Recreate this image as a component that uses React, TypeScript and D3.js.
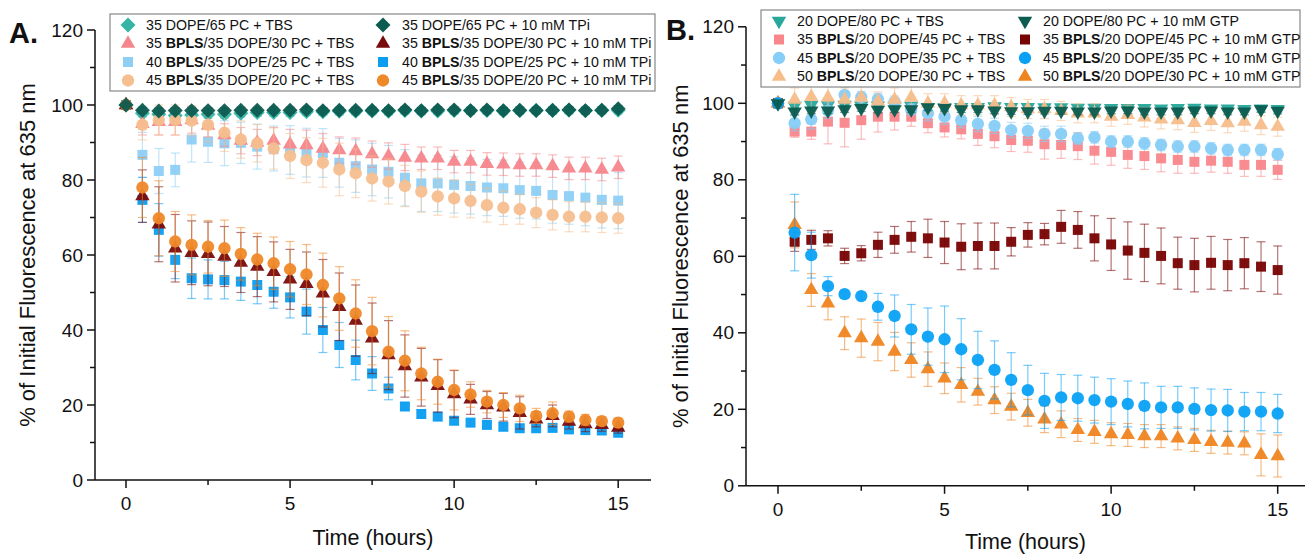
import React from "react";
import * as d3 from "d3";

const times = [0, 0.5, 1, 1.5, 2, 2.5, 3, 3.5, 4, 4.5, 5, 5.5, 6, 6.5, 7, 7.5, 8, 8.5, 9, 9.5, 10, 10.5, 11, 11.5, 12, 12.5, 13, 13.5, 14, 14.5, 15];
const yTicks = [0, 20, 40, 60, 80, 100, 120];
const yMinor = [10, 30, 50, 70, 90, 110];
const xTicks = [0, 5, 10, 15];
const xMinor = [2.5, 7.5, 12.5];

// Panel A values
const a1 = [100, 97.8, 97.5, 97.2, 97.3, 97.5, 97.5, 97.8, 98, 98, 98, 98.2, 98.2, 98.3, 98.3, 98.4, 98.3, 98.5, 98.4, 98.4, 98.5, 98.5, 98.5, 98.4, 98.5, 98.6, 98.5, 98.6, 98.5, 98.6, 98.6];
const a1e = [0.5, 1, 1, 1, 1, 1, 1, 1, 1, 1, 1, 1, 1, 1, 1, 1, 1, 1, 1, 1, 1, 1, 1, 1, 1, 1, 1, 1, 1, 1, 1];
const a2 = [100, 98.6, 98.4, 98.5, 98.5, 98.5, 98.5, 98.6, 98.6, 98.6, 98.6, 98.7, 98.5, 98.6, 98.6, 98.6, 98.5, 98.7, 98.5, 98.7, 98.7, 98.5, 98.7, 98.5, 98.6, 98.5, 98.6, 98.7, 98.5, 98.6, 99.0];
const a2e = [0.5, 0.8, 0.8, 0.8, 0.8, 0.8, 0.8, 0.8, 0.8, 0.8, 0.8, 0.8, 0.8, 0.8, 0.8, 0.8, 0.8, 0.8, 0.8, 0.8, 0.8, 0.8, 0.8, 0.8, 0.8, 0.8, 0.8, 0.8, 0.8, 0.8, 0.8];
const a3 = [100, 95, 95.5, 95.5, 96, 94.5, 92, 90.5, 90, 90.5, 89.5, 89.3, 88.4, 88.0, 87.7, 86.9, 86.4, 86.0, 85.8, 85.8, 84.9, 84.9, 84.3, 84.2, 84.0, 84.0, 83.7, 83.1, 83.1, 82.8, 83.4];
const a3e = [0.5, 3, 3.5, 3.5, 3.5, 3, 3, 3.5, 3.5, 3.5, 4, 4, 4, 3.5, 3.5, 3.5, 3.5, 3.5, 3, 3, 3, 3, 3, 3, 3, 3, 3, 3, 3, 3, 3];
const a4 = [100, 86.7, 82.4, 82.7, 90.8, 90.2, 89.8, 89.9, 88.9, 88.4, 88, 87.3, 87.2, 84.6, 83.7, 82.8, 82.2, 80.6, 79.1, 79.1, 78.7, 78.4, 78.0, 77.8, 77.3, 77.1, 76.0, 75.7, 75.3, 74.7, 74.5];
const a4e = [0.5, 6, 6, 4.5, 6, 5.5, 6, 5.5, 6, 6, 6.5, 6.5, 6.5, 6.5, 7, 7, 7, 7.5, 7.5, 7.5, 7.5, 7.5, 7.5, 7.5, 7.5, 7.5, 7.5, 7.5, 7.5, 7.5, 7.5];
const a5 = [100, 94.7, 96, 96, 95.8, 94.7, 92.6, 90.8, 89.8, 88.4, 86.4, 85.3, 84.6, 82.8, 81.8, 80.4, 79.6, 78.4, 76.9, 75.6, 75.1, 74.4, 73.3, 72.6, 72.2, 71.3, 70.7, 70.2, 70.2, 70.0, 69.8];
const a5e = [0.5, 4, 4, 4, 4, 4.5, 5, 5, 5, 5.5, 6, 6, 6.5, 7, 6.5, 6, 6, 5.5, 5.5, 5, 5, 4.5, 4.5, 4.5, 4, 4, 4, 4, 4, 4, 4];
const a6 = [100, 75.7, 68.2, 61.8, 60.6, 60.3, 59.6, 58.0, 56.9, 55.5, 53.5, 52.3, 49.8, 46.2, 42.5, 37.8, 33.3, 30.4, 27.4, 25.1, 22.9, 21.5, 20.0, 19.4, 17.9, 16.2, 17.1, 15.6, 14.9, 14.7, 14.0];
const a6e = [0.5, 7, 10, 9, 8.5, 8.5, 8, 8, 8, 8, 8, 8.5, 9, 9, 9.5, 9.4, 9.2, 8.3, 7.7, 7, 6.3, 4, 3.6, 3.7, 4.3, 2, 2.9, 2, 2, 1.7, 1.5];
const a7 = [100, 74.7, 66.7, 58.7, 53.8, 53.5, 53.3, 52.9, 52.0, 50.2, 48.7, 44.9, 40.0, 36.0, 32.0, 28.4, 24.4, 19.6, 17.6, 16.9, 15.8, 15.3, 14.7, 14.2, 13.8, 13.8, 13.9, 13.5, 13.3, 13.2, 12.6];
const a7e = [0.5, 6, 7, 5, 5.4, 5.2, 5, 5, 5, 4.4, 5.5, 6, 6, 6, 5.3, 4.5, 3, 1, 1, 1, 1, 1, 1, 1, 1, 1, 1, 1, 1, 1, 1];
const a8 = [100, 78, 69.8, 63.6, 62.7, 62.2, 61.8, 60.3, 58.8, 57.8, 56.2, 54.8, 52.0, 48.4, 44.4, 39.7, 34.2, 31.8, 28.4, 26.2, 24.0, 22.8, 20.9, 20.0, 19.1, 17.1, 17.8, 16.9, 16.0, 15.7, 15.3];
const a8e = [0.5, 8, 10, 8, 8, 7, 7.5, 7, 7, 7, 7.4, 8, 8.5, 8.5, 9, 9, 9.4, 8, 7, 6, 5.3, 3.4, 3, 3.3, 3.5, 2, 3, 1.5, 1.5, 1.2, 1.2];

// Panel B values
const b1 = [100, 99.3, 99.5, 99.5, 99.6, 99.4, 99.4, 99.3, 99.3, 99.0, 99.0, 99.0, 99.0, 99.2, 99.0, 99.0, 98.9, 98.9, 98.8, 98.8, 98.7, 98.7, 98.7, 98.6, 98.7, 98.8, 98.6, 98.6, 98.5, 98.6, 98.5];
const b1e = [0.5, 0.8, 0.8, 0.8, 0.8, 0.8, 0.8, 0.8, 0.8, 0.8, 0.8, 0.8, 0.8, 0.8, 0.8, 0.8, 0.8, 0.8, 0.8, 0.8, 0.8, 0.8, 0.8, 0.8, 0.8, 0.8, 0.8, 0.8, 0.8, 0.8, 0.8];
const b2 = [100, 97.8, 98.1, 98.1, 98.4, 98.7, 98.3, 98.4, 98.4, 98.9, 98.7, 98.4, 98.4, 98.1, 97.9, 97.9, 98, 98, 97.8, 97.8, 98.1, 98.1, 97.8, 97.8, 97.8, 98.1, 98.1, 97.8, 97.8, 98.4, 98.0];
const b2e = [0.5, 0.8, 0.8, 0.8, 0.8, 0.8, 0.8, 0.8, 0.8, 0.8, 0.8, 0.8, 0.8, 0.8, 0.8, 0.8, 0.8, 0.8, 0.8, 0.8, 0.8, 0.8, 0.8, 0.8, 0.8, 0.8, 0.8, 0.8, 0.8, 0.8, 0.8];
const b3 = [100, 92.6, 92.6, 95.2, 94.9, 95.6, 96.5, 96.5, 96.5, 94.8, 93.7, 93.2, 92.0, 91.4, 90.4, 90.2, 89.3, 89.1, 88.8, 87.6, 87.3, 86.5, 86.2, 85.6, 85.2, 84.7, 85.0, 84.7, 83.9, 83.9, 82.6];
const b3e = [0.5, 1.5, 2, 5.8, 6.3, 5, 4, 3.5, 2.5, 2.5, 2.5, 2.5, 3, 3, 3, 3, 3.9, 3.5, 3.5, 3.5, 3.5, 3.5, 3.5, 3.5, 3.5, 3, 3, 3, 3, 3, 2.5];
const b4 = [100, 94.8, 95.8, 98.1, 102.2, 101.6, 101.1, 100.4, 98.4, 97.4, 96.5, 95.6, 94.6, 94.1, 93.0, 92.8, 92.0, 92.0, 90.8, 91.1, 90.0, 90.0, 89.5, 89.1, 88.7, 88.7, 88.2, 87.8, 87.8, 87.8, 86.7];
const b4e = [0.5, 2, 2.5, 2, 2, 1.5, 1.5, 1.5, 1.5, 2, 2, 2, 2, 2, 2, 2, 2, 2, 1.5, 1.5, 1.5, 1.5, 1.5, 1.5, 1.5, 1.5, 1.5, 1.5, 1.5, 1.5, 1.5];
const b5 = [100, 101, 101.7, 101.5, 101, 101.5, 100.5, 101, 101.5, 100, 100, 99.5, 99.5, 99.5, 99, 98.5, 98.5, 98, 97.4, 97.4, 96.5, 97, 96.3, 95.8, 95.6, 94.9, 95.4, 94.8, 95.2, 94.3, 93.9];
const b5e = [0.5, 3, 4, 3.5, 3, 3, 2.5, 3, 3, 2.5, 2.5, 2.5, 2.5, 2.5, 2.5, 2.5, 2.5, 2.5, 2.5, 2.5, 2.5, 2.5, 2.5, 2.5, 2.5, 2.5, 2.5, 2.5, 2.5, 2.5, 2.5];
const b6 = [100, 63.8, 64.3, 64.7, 60.1, 60.8, 63.0, 64.3, 65.1, 64.7, 63.6, 62.5, 62.7, 62.7, 63.8, 65.6, 65.8, 67.7, 66.9, 64.7, 63.1, 61.5, 60.9, 60.1, 58.2, 57.7, 58.3, 57.7, 58.2, 57.3, 56.4];
const b6e = [0.5, 2.5, 2.5, 2, 2, 2, 3.3, 3.5, 4, 5, 5.5, 6, 6, 6, 3.7, 3.2, 2.8, 4.3, 4.8, 5.9, 6.8, 7.5, 7.5, 7.3, 6.8, 7, 6.9, 6.7, 6.7, 6.5, 6.3];
const b7 = [100, 66.2, 60.3, 52.2, 50.1, 49.6, 46.8, 44.4, 40.9, 39.0, 38.3, 35.7, 32.9, 30.3, 27.7, 25.0, 22.2, 23.1, 22.9, 22.4, 22.0, 21.4, 20.9, 20.5, 20.5, 20.1, 19.8, 19.7, 19.4, 19.4, 18.9];
const b7e = [0.5, 10, 6, 2.5, 1, 1, 3.5, 5.5, 6.5, 7.5, 8.7, 8, 7.5, 7.6, 7.1, 6.5, 7.2, 6, 6, 6, 6, 6, 6, 5.5, 5.5, 5.5, 5.5, 5.5, 5, 5, 5];
const b8 = [100, 68.2, 51.2, 47.7, 39.9, 38.6, 37.7, 35.1, 32.9, 30.5, 28.1, 26.4, 24.6, 22.4, 20.7, 19.1, 17.4, 16.1, 14.6, 14.1, 13.5, 13.3, 13.0, 13.0, 12.4, 12.0, 11.5, 11.3, 11.1, 8.1, 7.8];
const b8e = [0.5, 6, 4.3, 4.3, 4.3, 5, 5, 5, 4.5, 4.5, 4, 4.5, 3.5, 3.5, 3.5, 3.5, 3.5, 3.5, 3, 3, 3, 3, 3, 3, 3, 3, 3, 3, 3, 5.5, 5.5];

type Sym = "diamond" | "triangle" | "triangleDown" | "square" | "circle";
type Series = { pre: string; bold: string; post: string; values: number[]; err: number[]; color: string; sym: Sym; order: number; col: number; row: number };

const seriesA: Series[] = [
  { pre: "35 DOPE/65 PC + TBS", bold: "", post: "", values: a1, err: a1e, color: "#35b5a6", sym: "diamond", order: 0, col: 0, row: 0 },
  { pre: "35 ", bold: "BPLS", post: "/35 DOPE/30 PC + TBS", values: a3, err: a3e, color: "#f6868b", sym: "triangle", order: 2, col: 0, row: 1 },
  { pre: "40 ", bold: "BPLS", post: "/35 DOPE/25 PC + TBS", values: a4, err: a4e, color: "#8dcff5", sym: "square", order: 1, col: 0, row: 2 },
  { pre: "45 ", bold: "BPLS", post: "/35 DOPE/20 PC + TBS", values: a5, err: a5e, color: "#f5bf8f", sym: "circle", order: 3, col: 0, row: 3 },
  { pre: "35 DOPE/65 PC + 10 mM TPi", bold: "", post: "", values: a2, err: a2e, color: "#0d5b50", sym: "diamond", order: 8, col: 1, row: 0 },
  { pre: "35 ", bold: "BPLS", post: "/35 DOPE/30 PC + 10 mM TPi", values: a6, err: a6e, color: "#7a0b0b", sym: "triangle", order: 5, col: 1, row: 1 },
  { pre: "40 ", bold: "BPLS", post: "/35 DOPE/25 PC + 10 mM TPi", values: a7, err: a7e, color: "#0b9df0", sym: "square", order: 4, col: 1, row: 2 },
  { pre: "45 ", bold: "BPLS", post: "/35 DOPE/20 PC + 10 mM TPi", values: a8, err: a8e, color: "#ef8828", sym: "circle", order: 6, col: 1, row: 3 },
];

const seriesB: Series[] = [
  { pre: "20 DOPE/80 PC + TBS", bold: "", post: "", values: b1, err: b1e, color: "#27a89b", sym: "triangleDown", order: 0, col: 0, row: 0 },
  { pre: "35 ", bold: "BPLS", post: "/20 DOPE/45 PC + TBS", values: b3, err: b3e, color: "#f8868b", sym: "square", order: 1, col: 0, row: 1 },
  { pre: "45 ", bold: "BPLS", post: "/20 DOPE/35 PC + TBS", values: b4, err: b4e, color: "#86cdf7", sym: "circle", order: 2, col: 0, row: 2 },
  { pre: "50 ", bold: "BPLS", post: "/20 DOPE/30 PC + TBS", values: b5, err: b5e, color: "#f6bd8a", sym: "triangle", order: 3, col: 0, row: 3 },
  { pre: "20 DOPE/80 PC + 10 mM GTP", bold: "", post: "", values: b2, err: b2e, color: "#0c5c50", sym: "triangleDown", order: 8, col: 1, row: 0 },
  { pre: "35 ", bold: "BPLS", post: "/20 DOPE/45 PC + 10 mM GTP", values: b6, err: b6e, color: "#780202", sym: "square", order: 5, col: 1, row: 1 },
  { pre: "45 ", bold: "BPLS", post: "/20 DOPE/35 PC + 10 mM GTP", values: b7, err: b7e, color: "#0aa1f5", sym: "circle", order: 7, col: 1, row: 2 },
  { pre: "50 ", bold: "BPLS", post: "/20 DOPE/30 PC + 10 mM GTP", values: b8, err: b8e, color: "#ef8420", sym: "triangle", order: 6, col: 1, row: 3 },
];

const FONT = "'Liberation Sans', Arial, sans-serif";

function symPath(sym: Sym): { d: string; rot: number } {
  if (sym === "diamond") return { d: d3.symbol(d3.symbolSquare, 112)() || "", rot: 45 };
  if (sym === "triangle") return { d: d3.symbol(d3.symbolTriangle, 90)() || "", rot: 0 };
  if (sym === "triangleDown") return { d: d3.symbol(d3.symbolTriangle, 90)() || "", rot: 180 };
  if (sym === "square") return { d: d3.symbol(d3.symbolSquare, 100)() || "", rot: 0 };
  return { d: d3.symbol(d3.symbolCircle, 120)() || "", rot: 0 };
}

type PanelCfg = {
  letter: string; series: Series[];
  xr: [number, number]; xd: [number, number]; yr: [number, number];
  legend: { x: number; y: number; w: number; h: number; rows: number[]; symX: number[]; txtX: number[] };
  yTitleX: number; xTitleY: number; letterX: number; letterY: number;
};

function Panel({ cfg }: { cfg: PanelCfg }) {
  const x = d3.scaleLinear().domain(cfg.xd).range(cfg.xr);
  const y = d3.scaleLinear().domain([0, 120]).range(cfg.yr);
  const axisX = cfg.xr[0];
  const axisY = cfg.yr[0];
  const drawOrder = [...cfg.series].sort((a, b) => a.order - b.order);
  const cap = 4.5;
  return (
    <g>
      <text x={cfg.letterX} y={cfg.letterY} fontFamily={FONT} fontWeight="bold" fontSize={29} fill="#111">{cfg.letter}</text>
      {drawOrder.map((s, si) => {
        const sp = symPath(s.sym);
        return (
          <g key={si}>
            {s.values.map((v, i) => {
              const cx = x(times[i]);
              const y1 = y(v + s.err[i]);
              const y2 = y(v - s.err[i]);
              return (
                <g key={i} stroke={s.color} strokeOpacity={0.55} strokeWidth={1.2}>
                  <line x1={cx} x2={cx} y1={y1} y2={y2} />
                  <line x1={cx - cap} x2={cx + cap} y1={y1} y2={y1} />
                  <line x1={cx - cap} x2={cx + cap} y1={y2} y2={y2} />
                </g>
              );
            })}
            {s.values.map((v, i) => (
              <path key={"m" + i} d={sp.d} fill={s.color} fillOpacity={0.95}
                transform={`translate(${x(times[i])},${y(v)}) rotate(${sp.rot})`} />
            ))}
          </g>
        );
      })}
      <line x1={axisX} x2={axisX} y1={cfg.yr[1]} y2={axisY} stroke="#111" strokeWidth={1.5} />
      <line x1={axisX} x2={cfg.xr[1]} y1={axisY} y2={axisY} stroke="#111" strokeWidth={1.5} />
      {yTicks.map((t) => (
        <g key={"yt" + t}>
          <line x1={axisX - 8} x2={axisX} y1={y(t)} y2={y(t)} stroke="#111" strokeWidth={1.5} />
          <text x={axisX - 12} y={y(t)} dy="0.35em" textAnchor="end" fontFamily={FONT} fontSize={19} fill="#111">{t}</text>
        </g>
      ))}
      {yMinor.map((t) => (
        <line key={"ym" + t} x1={axisX - 5} x2={axisX} y1={y(t)} y2={y(t)} stroke="#111" strokeWidth={1.5} />
      ))}
      {xTicks.map((t) => (
        <g key={"xt" + t}>
          <line x1={x(t)} x2={x(t)} y1={axisY} y2={axisY + 8} stroke="#111" strokeWidth={1.5} />
          <text x={x(t)} y={axisY + 30} textAnchor="middle" fontFamily={FONT} fontSize={19} fill="#111">{t}</text>
        </g>
      ))}
      {xMinor.map((t) => (
        <line key={"xm" + t} x1={x(t)} x2={x(t)} y1={axisY} y2={axisY + 5} stroke="#111" strokeWidth={1.5} />
      ))}
      <text x={(cfg.xr[0] + Math.min(cfg.xr[1], 1305)) / 2} y={cfg.xTitleY} textAnchor="middle" fontFamily={FONT} fontSize={21.5} fill="#111">Time (hours)</text>
      <text transform={`translate(${cfg.yTitleX},${(cfg.yr[0] + cfg.yr[1]) / 2}) rotate(-90)`} dy="0.35em" textAnchor="middle" fontFamily={FONT} fontSize={22} fill="#111">% of Initial Fluorescence at 635 nm</text>
      <rect x={cfg.legend.x} y={cfg.legend.y} width={cfg.legend.w} height={cfg.legend.h} fill="#fff" stroke="#888" strokeWidth={1.2} />
      {cfg.series.map((s, i) => {
        const sp = symPath(s.sym);
        const ly = cfg.legend.rows[s.row];
        return (
          <g key={"lg" + i}>
            <path d={sp.d} fill={s.color} transform={`translate(${cfg.legend.symX[s.col]},${ly}) rotate(${sp.rot})`} />
            <text x={cfg.legend.txtX[s.col]} y={ly} dy="0.35em" fontFamily={FONT} fontSize={14.2} fill="#111">
              {s.pre}
              {s.bold ? <tspan fontWeight="bold">{s.bold}</tspan> : null}
              {s.post}
            </text>
          </g>
        );
      })}
    </g>
  );
}

const cfgA: PanelCfg = {
  letter: "A.", series: seriesA,
  xr: [95, 651], xd: [-0.945, 16], yr: [480, 30],
  legend: { x: 110, y: 14, w: 545, h: 77, rows: [25, 43.5, 62, 80.5], symX: [128, 383], txtX: [146, 402] },
  yTitleX: 27, xTitleY: 545, letterX: 9, letterY: 43,
};

const cfgB: PanelCfg = {
  letter: "B.", series: seriesB,
  xr: [746, 1311], xd: [-0.96, 16], yr: [485.8, 26.8],
  legend: { x: 761, y: 10, w: 539, h: 77, rows: [21, 39.5, 58, 76.5], symX: [779, 1025], txtX: [797, 1043] },
  yTitleX: 680, xTitleY: 549, letterX: 666, letterY: 40,
};

export default function App() {
  return (
    <svg width={1305} height={555} style={{ position: "fixed", left: 0, top: 0, background: "#fff" }}>
      <rect x={0} y={0} width={1305} height={555} fill="#fff" />
      <Panel cfg={cfgA} />
      <Panel cfg={cfgB} />
    </svg>
  );
}
